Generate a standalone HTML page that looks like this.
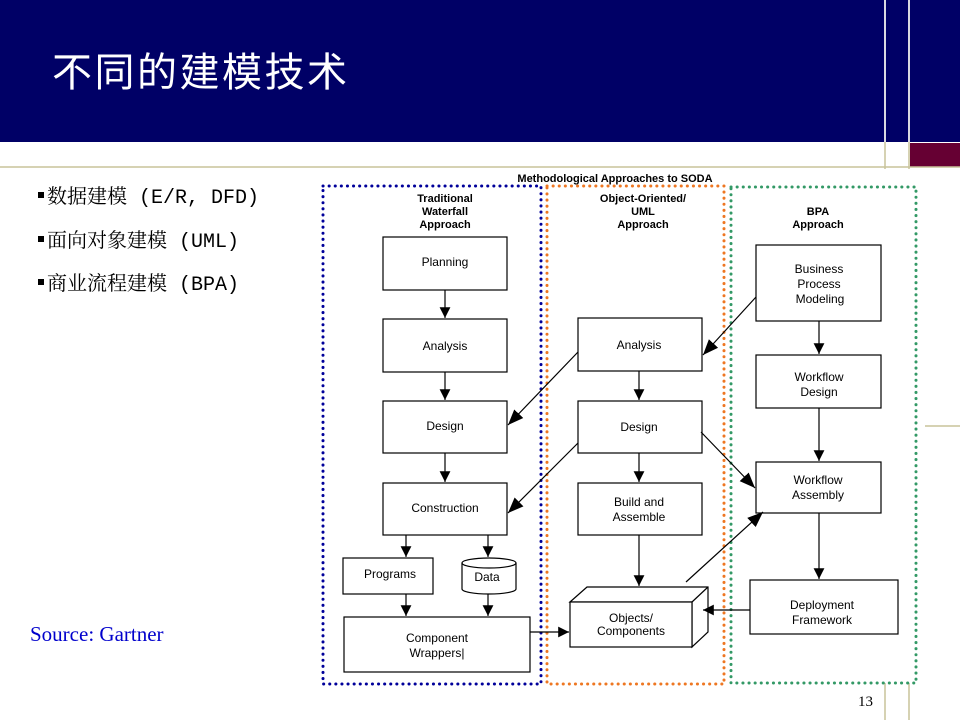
<!DOCTYPE html>
<html><head><meta charset="utf-8"><style>
body{margin:0;width:960px;height:720px;overflow:hidden;background:#fff;position:relative;font-family:"Liberation Sans",sans-serif}
</style></head><body>
<svg width="960" height="720" style="position:absolute;left:0;top:0" font-family="Liberation Sans, sans-serif">
<defs><marker id="a" viewBox="0 0 10 10" refX="10" refY="5" markerWidth="9" markerHeight="9" orient="auto"><path d="M0,0 L10,5 L0,10 z" fill="#000"/></marker>
<marker id="b" viewBox="0 0 10 10" refX="10" refY="5" markerWidth="13" markerHeight="13" orient="auto"><path d="M0,1 L10,5 L0,9 z" fill="#000"/></marker></defs>
<rect x="0" y="0" width="960" height="142" fill="#000066"/>
<line x1="885" y1="0" x2="885" y2="720" stroke="#c8c39a" stroke-width="1.5"/>
<line x1="909" y1="0" x2="909" y2="720" stroke="#c8c39a" stroke-width="1.5"/>
<line x1="885" y1="0" x2="885" y2="142" stroke="#fff" stroke-width="1.5"/>
<line x1="909" y1="0" x2="909" y2="142" stroke="#fff" stroke-width="1.5"/>
<rect x="910" y="143" width="50" height="24" fill="#660033"/>
<line x1="0" y1="167" x2="960" y2="167" stroke="#c8c39a" stroke-width="1.5"/>
<line x1="925" y1="426" x2="960" y2="426" stroke="#c8c39a" stroke-width="1.5"/>
<text x="52" y="86" fill="#fff" font-size="40" letter-spacing="2.5" font-family="Liberation Sans, Noto Sans CJK SC, sans-serif">不同的建模技术</text>
<rect x="38" y="192" width="6" height="6"/><rect x="38" y="236" width="6" height="6"/><rect x="38" y="279" width="6" height="6"/>
<g font-family="Liberation Mono, Noto Serif CJK SC, serif" font-size="20" fill="#000">
<text x="47" y="203">数据建模 (E/R, DFD)</text>
<text x="47" y="247">面向对象建模 (UML)</text>
<text x="47" y="290">商业流程建模 (BPA)</text>
</g>
<text x="30" y="641" fill="#0000cc" font-size="21" font-family="Liberation Serif, serif">Source: Gartner</text>
<text x="858" y="706" font-size="15" font-family="Liberation Serif, serif">13</text>
<rect x="318" y="169" width="606" height="514" fill="#fff"/>
<text x="615" y="182" font-size="11" font-weight="bold" text-anchor="middle">Methodological Approaches to SODA</text>
<rect x="323" y="186" width="218" height="498" fill="none" stroke="#00009a" stroke-width="3" stroke-dasharray="0.1 6" stroke-linecap="round"/>
<rect x="547" y="186" width="177" height="498" fill="none" stroke="#ee7722" stroke-width="3" stroke-dasharray="0.1 6" stroke-linecap="round"/>
<rect x="731" y="187" width="185" height="496" fill="none" stroke="#339966" stroke-width="3" stroke-dasharray="0.1 6" stroke-linecap="round"/>
<g font-size="11" font-weight="bold" text-anchor="middle">
<text x="445" y="202">Traditional</text><text x="445" y="215">Waterfall</text><text x="445" y="228">Approach</text>
<text x="643" y="202">Object-Oriented/</text><text x="643" y="215">UML</text><text x="643" y="228">Approach</text>
<text x="818" y="215">BPA</text><text x="818" y="228">Approach</text>
</g>
<g fill="#fff" stroke="#000" stroke-width="1.2">
<rect x="383" y="237" width="124" height="53"/>
<rect x="383" y="319" width="124" height="53"/>
<rect x="383" y="401" width="124" height="52"/>
<rect x="383" y="483" width="124" height="52"/>
<rect x="343" y="558" width="90" height="36"/>
<path d="M462,563 v26 a27,5 0 0 0 54,0 v-26"/>
<ellipse cx="489" cy="563" rx="27" ry="5"/>
<rect x="344" y="617" width="186" height="55"/>
<rect x="578" y="318" width="124" height="53"/>
<rect x="578" y="401" width="124" height="52"/>
<rect x="578" y="483" width="124" height="52"/>
<path d="M570,602 L587,587 L708,587 L708,632 L692,647 L692,602 Z"/>
<path d="M692,602 L708,587"/>
<rect x="570" y="602" width="122" height="45"/>
<rect x="756" y="245" width="125" height="76"/>
<rect x="756" y="355" width="125" height="53"/>
<rect x="756" y="462" width="125" height="51"/>
<rect x="750" y="580" width="148" height="54"/>
</g>
<g font-size="12" text-anchor="middle">
<text x="445" y="266">Planning</text>
<text x="445" y="350">Analysis</text>
<text x="445" y="430">Design</text>
<text x="445" y="512">Construction</text>
<text x="390" y="578">Programs</text>
<text x="487" y="581">Data</text>
<text x="437" y="642">Component</text><text x="437" y="657">Wrappers|</text>
<text x="639" y="349">Analysis</text>
<text x="639" y="431">Design</text>
<text x="639" y="506">Build and</text><text x="639" y="521">Assemble</text>
<text x="631" y="622">Objects/</text><text x="631" y="635">Components</text>
<text x="819" y="273">Business</text><text x="819" y="288">Process</text><text x="820" y="303">Modeling</text>
<text x="819" y="381">Workflow</text><text x="819" y="396">Design</text>
<text x="818" y="484">Workflow</text><text x="818" y="499">Assembly</text>
<text x="822" y="609">Deployment</text><text x="822" y="624">Framework</text>
</g>
<g stroke="#000" stroke-width="1.2" fill="none">
<line x1="445" y1="290" x2="445" y2="318" marker-end="url(#a)"/>
<line x1="445" y1="372" x2="445" y2="400" marker-end="url(#a)"/>
<line x1="445" y1="453" x2="445" y2="482" marker-end="url(#a)"/>
<line x1="406" y1="535" x2="406" y2="557" marker-end="url(#a)"/>
<line x1="488" y1="535" x2="488" y2="557" marker-end="url(#a)"/>
<line x1="406" y1="594" x2="406" y2="616" marker-end="url(#a)"/>
<line x1="488" y1="594" x2="488" y2="616" marker-end="url(#a)"/>
<line x1="530" y1="632" x2="569" y2="632" marker-end="url(#a)"/>
<line x1="639" y1="371" x2="639" y2="400" marker-end="url(#a)"/>
<line x1="639" y1="453" x2="639" y2="482" marker-end="url(#a)"/>
<line x1="639" y1="535" x2="639" y2="586" marker-end="url(#a)"/>
<line x1="819" y1="321" x2="819" y2="354" marker-end="url(#a)"/>
<line x1="819" y1="408" x2="819" y2="461" marker-end="url(#a)"/>
<line x1="819" y1="513" x2="819" y2="579" marker-end="url(#a)"/>
<line x1="750" y1="610" x2="703" y2="610" marker-end="url(#a)"/>
<line x1="578" y1="352" x2="508" y2="425" marker-end="url(#b)"/>
<line x1="578" y1="443" x2="508" y2="513" marker-end="url(#b)"/>
<line x1="756" y1="297" x2="703" y2="355" marker-end="url(#b)"/>
<line x1="701" y1="432" x2="755" y2="488" marker-end="url(#b)"/>
<line x1="686" y1="582" x2="763" y2="512" marker-end="url(#b)"/>
</g>
</svg>
</body></html>
